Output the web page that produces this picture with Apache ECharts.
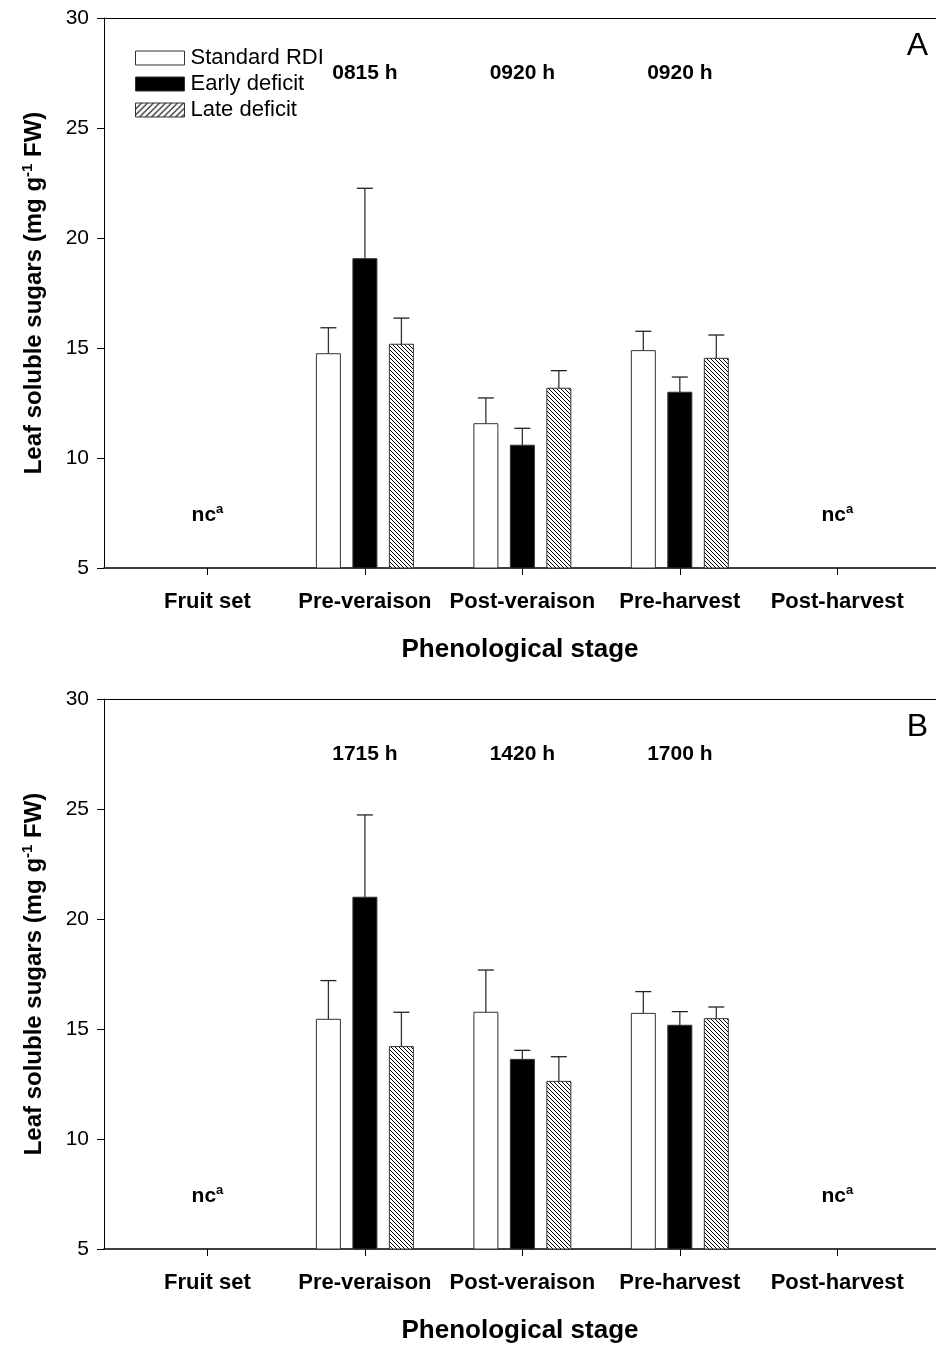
<!DOCTYPE html>
<html>
<head>
<meta charset="utf-8">
<script src="https://cdn.jsdelivr.net/npm/echarts@6/dist/echarts.min.js"></script>
<style>
html,body{margin:0;padding:0;background:#fff;}
#chart{width:936px;height:1345px;}
</style>
</head>
<body>
<div id="chart"></div>
<script>
// ---------- data ----------
const categories = ['Fruit set', 'Pre-veraison', 'Post-veraison', 'Pre-harvest', 'Post-harvest'];
const seriesNames = ['Standard RDI', 'Early deficit', 'Late deficit'];
const yTicks = [5, 10, 15, 20, 25, 30];

// Panel A
const standardA = [null, 14.74, 11.56, 14.88, null];
const standardAErr = [null, 1.18, 1.17, 0.88, null];
const earlyA = [null, 19.06, 10.58, 12.99, null];
const earlyAErr = [null, 3.20, 0.77, 0.69, null];
const lateA = [null, 15.17, 13.17, 14.53, null];
const lateAErr = [null, 1.19, 0.80, 1.06, null];
const timesA = ['', '0815 h', '0920 h', '0920 h', ''];

// Panel B
const standardB = [null, 15.44, 15.76, 15.71, null];
const standardBErr = [null, 1.76, 1.92, 0.99, null];
const earlyB = [null, 20.99, 13.62, 15.17, null];
const earlyBErr = [null, 3.74, 0.41, 0.62, null];
const lateB = [null, 14.20, 12.62, 15.47, null];
const lateBErr = [null, 1.56, 1.12, 0.53, null];
const timesB = ['', '1715 h', '1420 h', '1700 h', ''];

const notCollected = [true, false, false, false, true];
const timeLabelValue = 27.5;
const ncLabelValue = 7.4;

// ---------- styles ----------
const FONT = "'Liberation Sans', Arial, Helvetica, sans-serif";

function hatch(size, dir, lw) {
  const c = document.createElement('canvas');
  c.width = size; c.height = size;
  const g = c.getContext('2d');
  g.fillStyle = '#fff';
  g.fillRect(0, 0, size, size);
  g.strokeStyle = '#000';
  g.lineWidth = lw;
  g.beginPath();
  if (dir === 'back') { // "\" direction
    g.moveTo(-1, -1); g.lineTo(size + 1, size + 1);
    g.moveTo(size - 1, -1); g.lineTo(size + 1, 1);
    g.moveTo(-1, size - 1); g.lineTo(1, size + 1);
  } else { // "/" direction
    g.moveTo(-1, size + 1); g.lineTo(size + 1, -1);
    g.moveTo(-1, 1); g.lineTo(1, -1);
    g.moveTo(size - 1, size + 1); g.lineTo(size + 1, size - 1);
  }
  g.stroke();
  return c;
}
const barHatch = { image: hatch(4, 'back', 1), repeat: 'repeat' };
const legendHatch = { image: hatch(6, 'fwd', 1.1), repeat: 'repeat' };

const fills = ['#ffffff', '#000000', barHatch];
const offsetsPx = [-36.5, 0, 36.5];
const BAR_W = 24;
const CAP_W = 16;

function barSeries(name, idx, vals, errs, xAxisIndex, yAxisIndex) {
  const data = [];
  vals.forEach((v, i) => { if (v != null) data.push([i + 1, v, errs[i]]); });
  return {
    type: 'custom',
    name: name,
    xAxisIndex: xAxisIndex,
    yAxisIndex: yAxisIndex,
    itemStyle: { color: idx === 2 ? '#888' : fills[idx] },
    data: data,
    renderItem: function (params, api) {
      const x = api.value(0), v = api.value(1), e = api.value(2);
      const top = api.coord([x, v]);
      const base = api.coord([x, 5]);
      const errTop = api.coord([x, v + e]);
      const cx = top[0] + offsetsPx[idx];
      return {
        type: 'group',
        children: [
          {
            type: 'line',
            shape: { x1: cx, y1: top[1], x2: cx, y2: errTop[1] },
            style: { stroke: '#333', lineWidth: 1.3 }
          },
          {
            type: 'line',
            shape: { x1: cx - CAP_W / 2, y1: errTop[1], x2: cx + CAP_W / 2, y2: errTop[1] },
            style: { stroke: '#222', lineWidth: 1.3 }
          },
          {
            type: 'rect',
            shape: { x: cx - BAR_W / 2, y: top[1], width: BAR_W, height: base[1] - top[1] },
            style: { fill: fills[idx], stroke: '#333', lineWidth: 1 }
          }
        ]
      };
    }
  };
}

function annotationSeries(times, xAxisIndex, yAxisIndex) {
  const data = [];
  times.forEach((t, i) => {
    if (t) data.push([i + 1, timeLabelValue, t]);
    if (notCollected[i]) data.push([i + 1, ncLabelValue, 'nc']);
  });
  return {
    type: 'custom',
    xAxisIndex: xAxisIndex,
    yAxisIndex: yAxisIndex,
    silent: true,
    data: data,
    renderItem: function (params, api) {
      const p = api.coord([api.value(0), api.value(1)]);
      const label = data[params.dataIndex][2];
      const isNc = label === 'nc';
      return {
        type: 'text',
        style: {
          x: p[0], y: p[1],
          text: isNc ? '{n|nc}{s|a}' : label,
          align: 'center', verticalAlign: 'middle',
          fontFamily: FONT, fontSize: 21, fontWeight: 'bold', fill: '#000',
          rich: {
            n: { fontFamily: FONT, fontSize: 21, fontWeight: 'bold', fill: '#000' },
            s: { fontFamily: FONT, fontSize: 13, fontWeight: 'bold', fill: '#000', padding: [0, 0, 12, 0] }
          }
        }
      };
    }
  };
}

function bottomAxis(gridIndex) {
  return {
    type: 'value', gridIndex: gridIndex, position: 'bottom',
    min: 0.343, max: 5.627,
    splitLine: { show: false },
    axisLine: { show: true, onZero: false, lineStyle: { color: '#000', width: 1.6 } },
    axisTick: { show: true, inside: false, length: 7, customValues: [1, 2, 3, 4, 5], lineStyle: { color: '#000', width: 1 } },
    axisLabel: {
      show: true, customValues: [1, 2, 3, 4, 5], margin: 23,
      formatter: v => categories[Math.round(v) - 1],
      fontFamily: FONT, fontSize: 22, fontWeight: 'bold', color: '#000'
    },
    name: 'Phenological stage', nameLocation: 'middle', nameGap: 69,
    nameTextStyle: { fontFamily: FONT, fontSize: 26, fontWeight: 'bold', color: '#000' }
  };
}
function topAxis(gridIndex) {
  return {
    type: 'value', gridIndex: gridIndex, position: 'top',
    min: 0.343, max: 5.627,
    splitLine: { show: false },
    axisLine: { show: true, onZero: false, lineStyle: { color: '#000', width: 1 } },
    axisTick: { show: false }, axisLabel: { show: false }
  };
}
function leftAxis(gridIndex) {
  return {
    type: 'value', gridIndex: gridIndex,
    min: yTicks[0], max: yTicks[yTicks.length - 1], interval: 5,
    splitLine: { show: false },
    axisLine: { show: true, lineStyle: { color: '#000', width: 1 } },
    axisTick: { show: true, inside: false, length: 7, lineStyle: { color: '#000', width: 1 } },
    axisLabel: { margin: 15, fontFamily: FONT, fontSize: 21, color: '#000' },
    name: '{t|Leaf soluble sugars (mg g}{s|-1}{t| FW)}',
    nameLocation: 'middle', nameGap: 55, nameRotate: 90,
    nameTextStyle: {
      rich: {
        t: { fontFamily: FONT, fontSize: 24, fontWeight: 'bold', color: '#000' },
        s: { fontFamily: FONT, fontSize: 15, fontWeight: 'bold', color: '#000', padding: [0, 0, 14, 0] }
      }
    }
  };
}

const chart = echarts.init(document.getElementById('chart'), null, { renderer: 'canvas' });
chart.setOption({
  backgroundColor: '#fff',
  animation: false,
  title: [
    { text: 'A', right: 3, top: 25, textStyle: { fontFamily: FONT, fontSize: 32, fontWeight: 'normal', color: '#000' } },
    { text: 'B', right: 3, top: 706, textStyle: { fontFamily: FONT, fontSize: 32, fontWeight: 'normal', color: '#000' } }
  ],
  legend: {
    orient: 'vertical', left: 130, top: 42,
    itemWidth: 49, itemHeight: 14, itemGap: 4,
    selectedMode: false,
    textStyle: { fontFamily: FONT, fontSize: 22, color: '#000', padding: [0, 0, 0, 1] },
    data: [
      { name: seriesNames[0], icon: 'rect', itemStyle: { color: '#fff', borderColor: '#333', borderWidth: 1 } },
      { name: seriesNames[1], icon: 'rect', itemStyle: { color: '#000', borderColor: '#333', borderWidth: 1 } },
      { name: seriesNames[2], icon: 'rect', itemStyle: { color: legendHatch, borderColor: '#333', borderWidth: 1 } }
    ]
  },
  grid: [
    { left: 104, right: 0, top: 18, height: 550 },
    { left: 104, right: 0, top: 699, height: 550 }
  ],
  xAxis: [bottomAxis(0), topAxis(0), bottomAxis(1), topAxis(1)],
  yAxis: [leftAxis(0), leftAxis(1)],
  series: [
    barSeries(seriesNames[0], 0, standardA, standardAErr, 0, 0),
    barSeries(seriesNames[1], 1, earlyA, earlyAErr, 0, 0),
    barSeries(seriesNames[2], 2, lateA, lateAErr, 0, 0),
    annotationSeries(timesA, 0, 0),
    barSeries(seriesNames[0], 0, standardB, standardBErr, 2, 1),
    barSeries(seriesNames[1], 1, earlyB, earlyBErr, 2, 1),
    barSeries(seriesNames[2], 2, lateB, lateBErr, 2, 1),
    annotationSeries(timesB, 2, 1)
  ]
});
</script>
</body>
</html>
